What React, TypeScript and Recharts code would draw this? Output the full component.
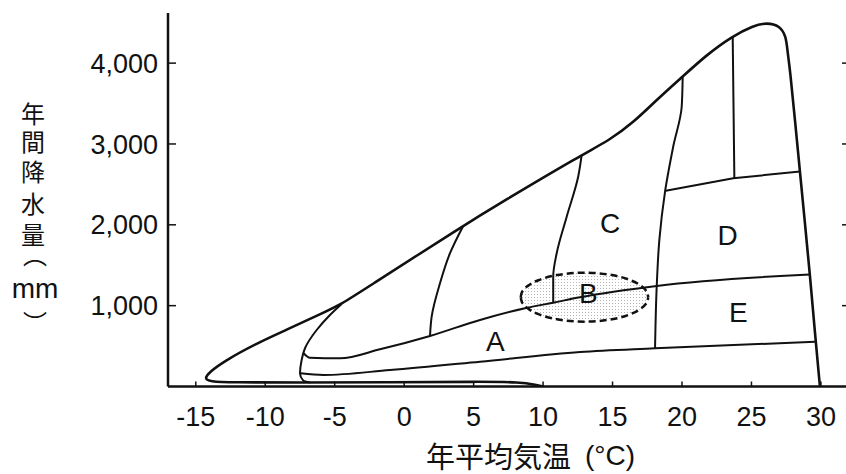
import React from 'react';
import { ComposedChart, Line, Area, XAxis, YAxis, ReferenceDot, ReferenceLine } from 'recharts';

const xTicks = [-15, -10, -5, 0, 5, 10, 15, 20, 25, 30];
const yTicks = [1000, 2000, 3000, 4000];

// outer edge: bottom edge right->left, round the tip, up the slope, over the peak, down to 30°C
const outerEdge = [
  { t: 9.99, p: 0 },
  { t: 9.54, p: 19 },
  { t: 8.34, p: 55 },
  { t: 5.46, p: 60 },
  { t: -1.04, p: 52 },
  { t: -7.5, p: 48 },
  { t: -12.54, p: 50 },
  { t: -13.98, p: 62 },
  { t: -14.4, p: 95 },
  { t: -13.98, p: 183 },
  { t: -13.02, p: 307 },
  { t: -10.62, p: 535 },
  { t: -8.22, p: 720 },
  { t: -5.82, p: 913 },
  { t: -4.5, p: 1021 },
  { t: -2.94, p: 1194 },
  { t: 4.23, p: 1986 },
  { t: 6.9, p: 2267 },
  { t: 12.78, p: 2865 },
  { t: 14.82, p: 3051 },
  { t: 16.47, p: 3261 },
  { t: 18.18, p: 3546 },
  { t: 20.05, p: 3834 },
  { t: 21.78, p: 4103 },
  { t: 23.58, p: 4329 },
  { t: 25.13, p: 4462 },
  { t: 26.1, p: 4502 },
  { t: 27.05, p: 4462 },
  { t: 27.49, p: 4329 },
  { t: 27.58, p: 4164 },
  { t: 27.78, p: 3917 },
  { t: 28.13, p: 3298 },
  { t: 28.49, p: 2658 },
  { t: 28.85, p: 2024 },
  { t: 29.21, p: 1380 },
  { t: 29.57, p: 662 },
  { t: 29.93, p: 0 },
];

const coldEdge = [
  { t: -4.5, p: 1021 },
  { t: -5.34, p: 885 },
  { t: -6.3, p: 699 },
  { t: -7.14, p: 473 },
  { t: -7.38, p: 328 },
  { t: -7.5, p: 163 },
  { t: -7.26, p: 72 },
  { t: -6.78, p: 50 },
];

const forestEdge = [
  { t: -7.24, p: 412 },
  { t: -6.78, p: 356 },
  { t: -4.62, p: 349 },
  { t: -1.74, p: 460 },
  { t: 1.86, p: 625 },
  { t: 5.46, p: 823 },
  { t: 8.7, p: 968 },
  { t: 10.73, p: 1037 },
  { t: 12.66, p: 1104 },
  { t: 18.18, p: 1244 },
  { t: 29.21, p: 1386 },
];

const dryEdge = [
  { t: -7.45, p: 163 },
  { t: -5.82, p: 142 },
  { t: -1.02, p: 204 },
  { t: 5.46, p: 307 },
  { t: 12.66, p: 427 },
  { t: 18.06, p: 473 },
  { t: 29.57, p: 554 },
];

const line4 = [
  { t: 4.25, p: 1986 },
  { t: 3.3, p: 1649 },
  { t: 2.58, p: 1277 },
  { t: 1.98, p: 864 },
  { t: 1.86, p: 625 },
];

const line10 = [
  { t: 12.78, p: 2865 },
  { t: 12.53, p: 2597 },
  { t: 11.7, p: 2101 },
  { t: 10.98, p: 1649 },
  { t: 10.73, p: 1359 },
  { t: 10.73, p: 1037 },
];

const line18 = [
  { t: 20.05, p: 3834 },
  { t: 19.98, p: 3463 },
  { t: 19.37, p: 2968 },
  { t: 18.78, p: 2411 },
  { t: 18.37, p: 1813 },
  { t: 18.18, p: 1235 },
  { t: 18.06, p: 473 },
];

const dTop = [
  { t: 18.83, p: 2420 },
  { t: 23.69, p: 2577 },
  { t: 28.5, p: 2658 },
];

const line24 = [
  { t: 23.65, p: 4329 },
  { t: 23.77, p: 2577 },
];

const ellipseB = [
  { t: 8.39, lo: 1105, hi: 1105 },
  { t: 8.45, lo: 1056, hi: 1154 },
  { t: 8.6, lo: 1014, hi: 1196 },
  { t: 9.0, lo: 954, hi: 1256 },
  { t: 9.8, lo: 887, hi: 1323 },
  { t: 11.0, lo: 832, hi: 1378 },
  { t: 12.98, lo: 802, hi: 1408 },
  { t: 14.96, lo: 832, hi: 1378 },
  { t: 16.16, lo: 887, hi: 1323 },
  { t: 16.96, lo: 954, hi: 1256 },
  { t: 17.36, lo: 1014, hi: 1196 },
  { t: 17.51, lo: 1056, hi: 1154 },
  { t: 17.57, lo: 1105, hi: 1105 },
];

const regionLabels = [
  { name: 'A', t: 6.56, p: 562 },
  { name: 'B', t: 13.25, p: 1153 },
  { name: 'C', t: 14.82, p: 2020 },
  { name: 'D', t: 23.29, p: 1875 },
  { name: 'E', t: 24.05, p: 926 },
];

const INK = '#111';
const LATIN = "'Liberation Sans', Arial, sans-serif";
const CJK = "'Noto Sans CJK JP', sans-serif";

const tickStyle = { fontSize: 27, fill: INK, fontFamily: LATIN };

const curves = [
  { key: 'outer', data: outerEdge, type: 'basis', w: 2.6 },
  { key: 'cold', data: coldEdge, type: 'monotoneY', w: 2 },
  { key: 'forest', data: forestEdge, type: 'monotone', w: 2 },
  { key: 'dry', data: dryEdge, type: 'monotone', w: 2 },
  { key: 'l4', data: line4, type: 'monotoneY', w: 2 },
  { key: 'l10', data: line10, type: 'monotoneY', w: 2 },
  { key: 'l18', data: line18, type: 'monotoneY', w: 2 },
  { key: 'dtop', data: dTop, type: 'linear', w: 2 },
  { key: 'l24', data: line24, type: 'linear', w: 2 },
] as const;

export default function App() {
  return (
    <div
      style={{
        position: 'absolute',
        left: 0,
        top: 0,
        width: 846,
        height: 474,
        overflow: 'hidden',
        background: '#fff',
      }}
    >
      <svg width={0} height={0} style={{ position: 'absolute' }}>
        <defs>
          <pattern id="stipple" width="3" height="3" patternUnits="userSpaceOnUse">
            <rect x="0" y="0" width="1" height="1" fill="#b4b4b4" />
          </pattern>
        </defs>
      </svg>
      <ComposedChart width={848} height={474} margin={{ top: 13, right: 0, bottom: 0.5, left: 0 }}>
        <XAxis
          type="number"
          dataKey="t"
          domain={[-17, 31.95]}
          ticks={xTicks}
          allowDataOverflow
          interval={0}
          height={87}
          tickSize={-5}
          tickMargin={25}
          axisLine={{ stroke: INK, strokeWidth: 2.5 }}
          tickLine={{ stroke: INK, strokeWidth: 1.5 }}
          tick={tickStyle}
        />
        <YAxis
          type="number"
          domain={[0, 4620]}
          ticks={yTicks}
          allowDataOverflow
          interval={0}
          width={168}
          tickSize={-8}
          tickMargin={18}
          tickFormatter={(v: number) => v.toLocaleString('en-US')}
          axisLine={{ stroke: INK, strokeWidth: 2.5 }}
          tickLine={{ stroke: INK, strokeWidth: 1.5 }}
          tick={tickStyle}
        />
        {/* short tick marks of the right-hand frame, at the edge of the picture */}
        {yTicks.map((v) => (
          <ReferenceLine
            key={`rt-${v}`}
            ifOverflow="visible"
            segment={[
              { x: 31.52, y: v },
              { x: 31.95, y: v },
            ]}
            stroke={INK}
            strokeWidth={1.5}
          />
        ))}
        <Area
          data={ellipseB}
          dataKey={(d: { lo: number; hi: number }) => [d.lo, d.hi]}
          type="monotone"
          fill="url(#stipple)"
          fillOpacity={1}
          stroke={INK}
          strokeWidth={2.5}
          strokeDasharray="7 4"
          dot={false}
          activeDot={false}
          isAnimationActive={false}
        />
        {curves.map((c) => (
          <Line
            key={c.key}
            data={c.data as any}
            dataKey="p"
            type={c.type as any}
            stroke={INK}
            strokeWidth={c.w}
            dot={false}
            activeDot={false}
            isAnimationActive={false}
          />
        ))}
        {regionLabels.map((l) => (
          <ReferenceDot
            key={l.name}
            x={l.t}
            y={l.p}
            r={0}
            stroke="none"
            fill="none"
            label={{ value: l.name, position: 'center', fontSize: 28, fill: INK, fontFamily: LATIN }}
          />
        ))}
      </ComposedChart>
      <svg
        width={846}
        height={474}
        style={{ position: 'absolute', left: 0, top: 0, pointerEvents: 'none' }}
      >
        <g fill={INK} dominantBaseline="central">
          <g textAnchor="middle">
            <text x={33} y={112} fontSize={24} fontFamily={CJK}>年</text>
            <text x={33} y={140} fontSize={24} fontFamily={CJK}>間</text>
            <text x={33} y={170} fontSize={24} fontFamily={CJK}>降</text>
            <text x={33} y={202} fontSize={24} fontFamily={CJK}>水</text>
            <text x={33} y={233} fontSize={24} fontFamily={CJK}>量</text>
            <text x={35} y={253} fontSize={24} fontFamily={CJK}>︵</text>
            <text x={35} y={288} fontSize={28} fontFamily={LATIN}>mm</text>
            <text x={35} y={321} fontSize={24} fontFamily={CJK}>︶</text>
          </g>
          <text x={571} y={455} textAnchor="end" fontSize={29} fontFamily={CJK}>年平均気温</text>
          <text x={585} y={455} textAnchor="start" fontSize={28} fontFamily={LATIN}>(°C)</text>
        </g>
      </svg>
    </div>
  );
}
